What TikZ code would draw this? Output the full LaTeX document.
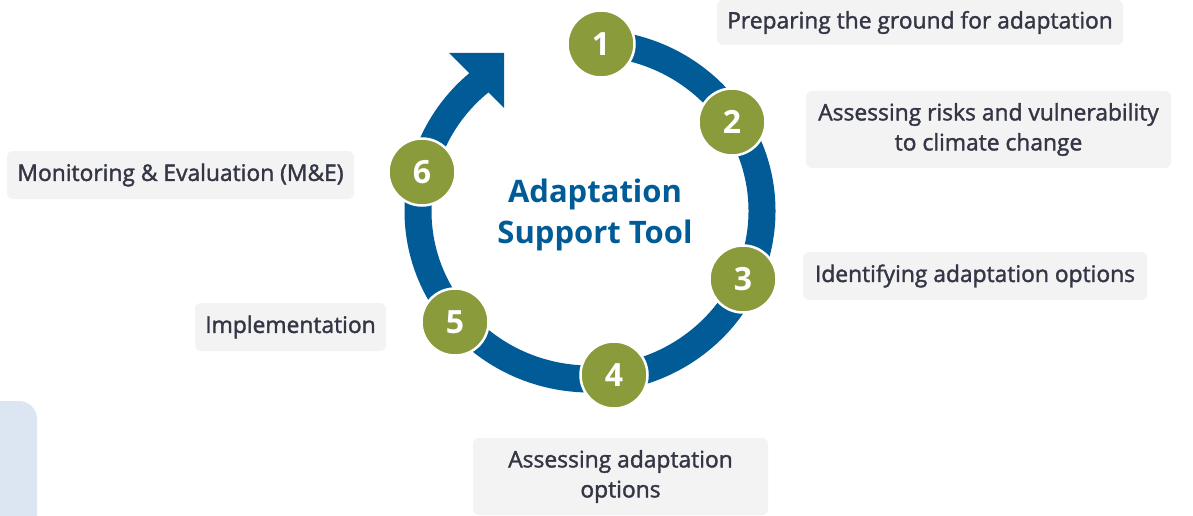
\documentclass[tikz,border=0pt]{standalone}
\usepackage{fontspec}
\setmainfont{Open Sans}
\newfontfamily\labfont[FakeBold=1.6]{Open Sans}
\definecolor{ringblue}{RGB}{0,91,150}
\definecolor{stepgreen}{RGB}{138,155,60}
\definecolor{boxgrey}{RGB}{243,243,243}
\definecolor{labtext}{RGB}{52,54,70}
\definecolor{sidebg}{RGB}{220,230,242}
\tikzset{
  stepnum/.style={circle, fill=stepgreen, draw=white, line width=2.5pt, minimum size=67pt, inner sep=0pt,
    text=white, font=\bfseries\fontsize{32}{32}\selectfont},
  labbox/.style={rectangle, rounded corners=6pt, fill=boxgrey, inner sep=0pt, align=center,
    text=labtext, font=\labfont\fontsize{22.8}{30}\selectfont},
}
\begin{document}
\begin{tikzpicture}[x=1pt,y=-1pt]
\useasboundingbox (0,0) rectangle (1193,516);
% side shape
\fill[sidebg] (-30,401) [rounded corners=18pt] -- (37,401) -- (37,560) [sharp corners] -- (-30,560) -- cycle;
% ring
\draw[ringblue, line width=27pt] (590,211) ++(-128:172 and 168) arc[start angle=-128, end angle=-446, x radius=172, y radius=168];
\fill[ringblue] (449,53) -- (504,53) -- (504,108) -- cycle;
% steps
\node[stepnum] (s1) at (601,44) {1};
\node[stepnum] (s2) at (732,122) {2};
\node[stepnum] (s3) at (743,279) {3};
\node[stepnum] (s4) at (614,375) {4};
\node[stepnum] (s5) at (455,322) {5};
\node[stepnum] (s6) at (422,172) {6};
% title
\node[text=ringblue, font=\bfseries\fontsize{31}{41}\selectfont, align=center] (title) at (595,215) {Adaptation\\Support Tool};
% labels
\node[labbox, minimum width=406pt, minimum height=45pt] (l1) at (920,22.5) {Preparing the ground for adaptation};
\node[labbox, minimum width=365pt, minimum height=77pt] (l2) at (988.5,129.5) {Assessing risks and vulnerability\\to climate change};
\node[labbox, minimum width=344pt, minimum height=48pt] (l3) at (975,276) {Identifying adaptation options};
\node[labbox, minimum width=295pt, minimum height=77pt] (l4) at (620.5,476.5) {Assessing adaptation\\options};
\node[labbox, minimum width=191pt, minimum height=48pt] (l5) at (290.5,327) {Implementation};
\node[labbox, minimum width=347pt, minimum height=48pt] (l6) at (180.5,175) {Monitoring \& Evaluation (M\&E)};
\end{tikzpicture}
\end{document}
